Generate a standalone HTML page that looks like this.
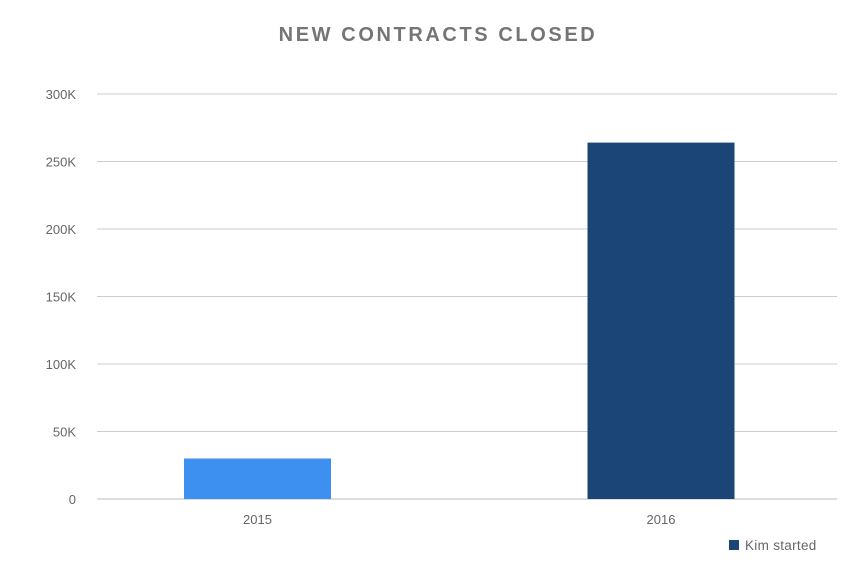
<!DOCTYPE html>
<html><head><meta charset="utf-8"><style>
body{margin:0;background:#fff;}
svg{display:block;font-family:"Liberation Sans",sans-serif;}
</style></head><body>
<svg id="chart" width="860" height="578">
<text x="438" y="41" text-anchor="middle" font-size="20" font-weight="bold" fill="#757575" letter-spacing="2.6">NEW CONTRACTS CLOSED</text>
<g id="grid"></g><g id="bars"></g><g id="xlabels"></g>
<rect x="729" y="540" width="10" height="10" fill="#1c4577"/>
<text x="745" y="550" font-size="13.5" letter-spacing="0.3" fill="#666">Kim started</text>
</svg>
<script>
const categories=["2015","2016"];
const values=[30,264];
const yTicks=[0,50,100,150,200,250,300];
const tickLabels=["0","50K","100K","150K","200K","250K","300K"];
const colors=["#3d8ff0","#1c4577"];
const NS="http://www.w3.org/2000/svg";
const y=v=>499-v*405/300;
const x=i=>257.5+i*403.5;
const grid=document.getElementById('grid'),bars=document.getElementById('bars'),xl=document.getElementById('xlabels');
yTicks.forEach((t,i)=>{
 const l=document.createElementNS(NS,'line');
 l.setAttribute('x1',97);l.setAttribute('x2',837);l.setAttribute('y1',y(t));l.setAttribute('y2',y(t));
 l.setAttribute('stroke',t===0?'#bbb':'#ccc');l.setAttribute('stroke-width',1);
 
 
 grid.appendChild(l);
 const tx=document.createElementNS(NS,'text');
 tx.setAttribute('x',76);tx.setAttribute('y',y(t)+5);tx.setAttribute('text-anchor','end');
 tx.setAttribute('font-size',13);tx.setAttribute('fill','#666');tx.textContent=tickLabels[i];
 
 
 grid.appendChild(tx);
});
categories.forEach((c,i)=>{
 const r=document.createElementNS(NS,'rect');
 r.setAttribute('x',x(i)-73.5);r.setAttribute('width',147);
 r.setAttribute('y',y(values[i]));r.setAttribute('height',y(0)-y(values[i]));
 r.setAttribute('fill',colors[i]);
 
 
 bars.appendChild(r);
 const t=document.createElementNS(NS,'text');
 t.setAttribute('x',x(i));t.setAttribute('y',524);t.setAttribute('text-anchor','middle');
 t.setAttribute('font-size',13);t.setAttribute('fill','#666');t.textContent=c;
 
 
 xl.appendChild(t);
});
</script>
</body></html>
